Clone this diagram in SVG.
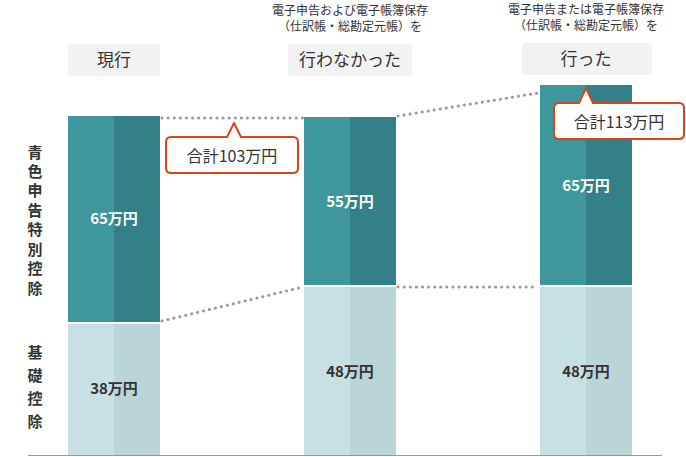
<svg xmlns="http://www.w3.org/2000/svg" width="686" height="457" viewBox="0 0 686 457">
<style>
text{font-family:"Noto Sans CJK JP","Noto Sans",sans-serif;fill:#333}
.tl{fill:#3e979c}.tr{fill:#338088}.bl{fill:#c7e0e3}.br{fill:#b9d5d8}
.dot{stroke:#999;stroke-width:3;stroke-dasharray:0.1 6;stroke-linecap:round;fill:none}
.lab{fill:#f2f2f2}
.call{fill:#fff;stroke:#d9441a;stroke-width:2;stroke-linejoin:round}
.w{fill:#fff;font-weight:bold;font-size:15px}
.d{fill:#333;font-weight:bold;font-size:15px}
.v{font-size:15px;font-weight:bold;text-anchor:middle}
</style>
<g id="connectors">
<line class="dot" x1="162" y1="321" x2="303" y2="287"/>
<line class="dot" x1="162" y1="118" x2="303" y2="118"/>
<line class="dot" x1="398" y1="116" x2="538" y2="93"/>
<line class="dot" x1="398" y1="287" x2="538" y2="287"/>
</g>
<line x1="28" y1="455.5" x2="662" y2="455.5" stroke="#999" stroke-width="1"/>
<g id="axis-labels">
<text class="v" x="35" y="158">青</text><text class="v" x="35" y="177">色</text><text class="v" x="35" y="196">申</text><text class="v" x="35" y="216">告</text>
<text class="v" x="35" y="235">特</text><text class="v" x="35" y="255">別</text><text class="v" x="35" y="274">控</text><text class="v" x="35" y="294">除</text>
<text class="v" x="35" y="358">基</text><text class="v" x="35" y="381">礎</text><text class="v" x="35" y="404">控</text><text class="v" x="35" y="427">除</text>
</g>
<g id="bar1">
<rect class="tl" x="68" y="116" width="46" height="206"/><rect class="tr" x="114" y="116" width="46" height="206"/>
<rect class="bl" x="68" y="324" width="46" height="131"/><rect class="br" x="114" y="324" width="46" height="131"/>
<text class="w" x="114" y="224" text-anchor="middle">65万円</text>
<text class="d" x="114" y="394" text-anchor="middle">38万円</text>
</g>
<g id="bar2">
<rect class="tl" x="304" y="117" width="46" height="168"/><rect class="tr" x="350" y="117" width="46" height="168"/>
<rect class="bl" x="304" y="287" width="46" height="168"/><rect class="br" x="350" y="287" width="46" height="168"/>
<text class="w" x="350" y="207" text-anchor="middle">55万円</text>
<text class="d" x="350" y="377" text-anchor="middle">48万円</text>
</g>
<g id="bar3">
<rect class="tl" x="540" y="85" width="46" height="200"/><rect class="tr" x="586" y="85" width="46" height="200"/>
<rect class="bl" x="540" y="287" width="46" height="168"/><rect class="br" x="586" y="287" width="46" height="168"/>
<text class="w" x="586" y="191" text-anchor="middle">65万円</text>
<text class="d" x="586" y="377" text-anchor="middle">48万円</text>
</g>
<g id="label1"><rect class="lab" x="68" y="44" width="92" height="32" rx="3"/><text x="114" y="66" text-anchor="middle" font-size="17">現行</text></g>
<g id="label2">
<text x="350" y="15" text-anchor="middle" font-size="12">電子申告および電子帳簿保存</text>
<text x="350" y="31" text-anchor="middle" font-size="12">（仕訳帳・総勘定元帳）を</text>
<rect class="lab" x="288" y="44" width="124" height="32" rx="3"/><text x="350" y="66" text-anchor="middle" font-size="17">行わなかった</text></g>
<g id="label3">
<text x="586" y="14" text-anchor="middle" font-size="12">電子申告または電子帳簿保存</text>
<text x="586" y="30" text-anchor="middle" font-size="12">（仕訳帳・総勘定元帳）を</text>
<rect class="lab" x="522" y="43" width="130" height="32" rx="3"/><text x="586" y="65" text-anchor="middle" font-size="17">行った</text></g>
<g id="callout1"><path class="call" d="M171,137 H227 L234,123 L241,137 H293 Q298,137 298,142 V168 Q298,173 293,173 H171 Q166,173 166,168 V142 Q166,137 171,137 Z"/><text x="232" y="162" text-anchor="middle" font-size="16">合計103万円</text></g>
<g id="callout2"><path class="call" d="M559,103 H579 L586,88 L593,103 H679 Q684,103 684,108 V134 Q684,139 679,139 H559 Q554,139 554,134 V108 Q554,103 559,103 Z"/><text x="619" y="128" text-anchor="middle" font-size="16">合計113万円</text></g>
</svg>
